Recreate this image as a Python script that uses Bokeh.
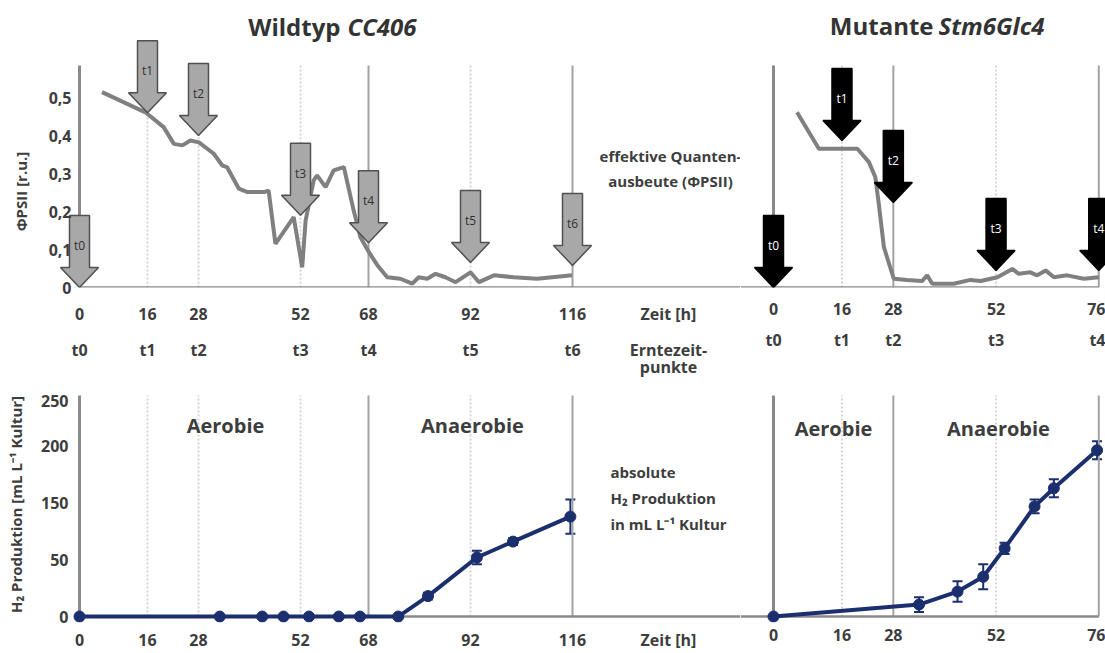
import math
from bokeh.plotting import figure
from bokeh.models import Range1d, FixedTicker, LinearAxis, Label, ColumnDataSource, Whisker, TeeHead
from bokeh.layouts import column, row
from bokeh.embed import file_html
from bokeh.resources import INLINE
from bokeh.core.properties import value

# ---------------- data ----------------
wt_psii_time = [5.3, 15.5, 19.8, 22.2, 24.2, 26.1, 28.1, 31.6, 33.6, 34.7, 37.5, 39.5, 43.4, 44.5, 46.1,
                50.4, 52.4, 53.2, 55.1, 55.9, 57.9, 59.8, 62.2, 64.5, 66.1, 68.1, 70.0, 72.4, 75.5, 78.3,
                79.8, 81.8, 83.8, 86.1, 88.5, 92.0, 94.0, 97.5, 102.2, 107.7, 115.9]
wt_psii = [0.514, 0.461, 0.422, 0.378, 0.374, 0.387, 0.382, 0.352, 0.321, 0.317, 0.260, 0.251, 0.251, 0.255, 0.115,
           0.185, 0.053, 0.176, 0.282, 0.295, 0.264, 0.308, 0.317, 0.203, 0.132, 0.093, 0.060, 0.027, 0.023, 0.010,
           0.027, 0.023, 0.036, 0.027, 0.014, 0.040, 0.014, 0.032, 0.027, 0.023, 0.032]

mut_psii_time = [5.5, 10.6, 19.6, 22.3, 23.8, 24.6, 25.8, 28.1, 31.2, 34.7, 35.9, 37.1, 39.8, 42.1, 46.0,
                 48.4, 52.3, 55.8, 57.3, 60.0, 61.6, 63.6, 65.5, 68.6, 72.5, 76.0]
mut_psii = [0.461, 0.365, 0.365, 0.330, 0.290, 0.220, 0.106, 0.023, 0.020, 0.017, 0.032, 0.010, 0.010, 0.010, 0.020,
            0.017, 0.027, 0.049, 0.036, 0.040, 0.032, 0.045, 0.027, 0.032, 0.023, 0.027]

wt_harvest_time = [0, 16, 28, 52, 68, 92, 116]
wt_harvest_label = ["t0", "t1", "t2", "t3", "t4", "t5", "t6"]
wt_arrow_tip = [0.0, 0.46, 0.40, 0.19, 0.118, 0.066, 0.058]

mut_harvest_time = [0, 16, 28, 52, 76]
mut_harvest_label = ["t0", "t1", "t2", "t3", "t4"]
mut_arrow_tip = [0.0, 0.387, 0.224, 0.045, 0.045]

wt_h2_time = [0, 33, 43, 48, 54, 61, 66, 75, 82, 93.5, 102, 115.5]
wt_h2 = [0, 0, 0, 0, 0, 0, 0, 0, 18, 52, 66, 88]
wt_h2_err = [0, 0, 0, 0, 0, 0, 0, 0, 3, 6, 3, 15]

mut_h2_time = [0, 34, 43, 49, 54, 61, 65.5, 75.6]
mut_h2 = [0, 10.5, 22, 35, 60, 97, 113, 146.5]
mut_h2_err = [0, 6.5, 9, 11, 5, 6, 8, 8]

psii_ticks = [0, 0.1, 0.2, 0.3, 0.4, 0.5]
psii_tick_labels = ["0", "0,1", "0,2", "0,3", "0,4", "0,5"]
h2_ticks = [0, 50, 100, 150, 190]
h2_tick_labels = ["0", "50", "150", "200", "250"]

wt_solid = [68, 116]
wt_dotted = [16, 28, 52, 92]
mut_solid = [28, 76]
mut_dotted = [16, 52]

# ---------------- style / layout constants ----------------
FONT = "Open Sans"
TXT = "#3d3d3d"
NAVY = "#1b2f6e"
GREY_LINE = "#808080"
SIDE = 30                      # narrow strip holding the rotated top y title
W_WT, W_MUT = 740, 365
H_TOP, H_BOT = 386, 267
PXH_WT, PXH_MUT = 4.25, 4.28
LEFT = 58                      # absolute pixel of the WT frame's left edge
AX0_WT = 79                    # absolute pixel of t = 0 (WT)
AX0_MUT = 773                  # absolute pixel of t = 0 (mutant)
TOP_BASE = 287                 # absolute pixel of the PSII baseline
PX_PSII = 380.0
BOT_BASE_ABS = 617             # absolute pixel of the H2 baseline
PX_H2 = 1.14
BOT_BORDER = 30
PSII_AXTOP = 0.584
H2_AXTOP = 194.7


def xw(X):
    return (X - AX0_WT) / PXH_WT


def xm(X):
    return (X - AX0_MUT) / PXH_MUT


def yt(Y):
    return (TOP_BASE - Y) / PX_PSII


def yb(Y):
    return (BOT_BASE_ABS - Y) / PX_H2


ZEIT_X = xw(668)
wt_x0 = xw(LEFT)
wt_x1 = xw(W_WT)
mut_x0 = xm(W_WT)
mut_x1 = xm(W_WT + W_MUT)
bot_frame_bottom = H_TOP + H_BOT - BOT_BORDER
bot_y0 = yb(bot_frame_bottom)
bot_y1 = yb(H_TOP)


def make_fig(w, h, xr, yr, left, bottom, yaxis=True):
    kw = dict(width=w, height=h, x_range=Range1d(*xr), y_range=Range1d(*yr),
              output_backend="svg", toolbar_location=None,
              min_border_left=left, min_border_right=0, min_border_top=0, min_border_bottom=bottom)
    if not yaxis:
        kw["y_axis_location"] = None
    p = figure(**kw)
    p.xgrid.visible = False
    p.ygrid.visible = False
    p.outline_line_color = None
    p.background_fill_color = "white"
    p.border_fill_color = "white"
    return p


def style_axis(ax, ticks, labels, standoff, size="16px"):
    ax.ticker = FixedTicker(ticks=ticks)
    ax.major_label_overrides = {t: l for t, l in zip(ticks, labels)}
    ax.axis_line_color = None
    ax.major_tick_line_color = None
    ax.minor_tick_line_color = None
    ax.major_tick_out = 0
    ax.major_tick_in = 0
    ax.major_label_standoff = standoff
    ax.major_label_text_font = FONT
    ax.major_label_text_font_style = "bold"
    ax.major_label_text_font_size = size
    ax.major_label_text_color = TXT


def lab(p, x, y, text, size="16px", style="bold", align="center", color=TXT, angle=0.0):
    p.add_layout(Label(x=x, y=y, text=text, text_font=FONT, text_font_size=size,
                       text_font_style=style, text_color=color, text_align=align,
                       text_baseline="middle", angle=angle))


def vlines(p, solid, dotted, top):
    p.segment(x0=dotted, y0=[0] * len(dotted), x1=dotted, y1=[top] * len(dotted),
              line_color="#d4d4d4", line_width=2, line_dash="2 2")
    p.segment(x0=solid, y0=[0] * len(solid), x1=solid, y1=[top] * len(solid),
              line_color="#a3a3a3", line_width=2)
    p.segment(x0=[0], y0=[0], x1=[0], y1=[top], line_color="#8a8a8a", line_width=3)


def arrows(p, times, tips, labels, pxx, fill, outline, tcolor):
    shape = [(0, 0), (19, 20), (10, 20), (10, 72), (-10, 72), (-10, 20), (-19, 20)]
    xs = [[t + dx / pxx for dx, dy in shape] for t in times]
    ys = [[v + dy / PX_PSII for dx, dy in shape] for v in tips]
    p.patches(xs, ys, fill_color=fill, line_color=outline, line_width=1.5)
    p.text(x=times, y=[v + 42 / PX_PSII for v in tips], text=labels,
           text_font=value(FONT), text_font_size="12px", text_color=tcolor,
           text_align="center", text_baseline="middle")


# ---------------- side strip with the rotated PSII title ----------------
p0 = figure(width=SIDE, height=H_TOP, x_range=Range1d(0, SIDE), y_range=Range1d(TOP_BASE, 0),
            output_backend="svg", toolbar_location=None, x_axis_location=None, y_axis_location=None,
            min_border_left=0, min_border_right=0, min_border_top=0, min_border_bottom=H_TOP - TOP_BASE)
p0.xgrid.visible = False
p0.ygrid.visible = False
p0.outline_line_color = None
p0.border_fill_color = "white"
lab(p0, 20, 191, "ΦPSII [r.u.]", size="15px", angle=math.pi / 2)

# ---------------- top left: Wildtyp PSII ----------------
p1 = make_fig(W_WT - SIDE, H_TOP, (wt_x0, wt_x1), (0, yt(0)), LEFT - SIDE, H_TOP - TOP_BASE)
vlines(p1, wt_solid, wt_dotted, PSII_AXTOP)
p1.segment(x0=[0], y0=[0], x1=[wt_x1], y1=[0], line_color="#8a8a8a", line_width=2.5)
p1.line(wt_psii_time, wt_psii, line_color=GREY_LINE, line_width=4)
arrows(p1, wt_harvest_time, wt_arrow_tip, wt_harvest_label, PXH_WT, "#a8a8a8", "#505050", "#303030")
style_axis(p1.yaxis[0], psii_ticks, psii_tick_labels, -13)
style_axis(p1.xaxis[0], wt_harvest_time + [ZEIT_X], [str(t) for t in wt_harvest_time] + ["Zeit [h]"], 15)
ax2 = LinearAxis()
style_axis(ax2, wt_harvest_time + [ZEIT_X], wt_harvest_label + ["Erntezeit-"], 11)
p1.add_layout(ax2, "below")
ax3 = LinearAxis()
style_axis(ax3, [ZEIT_X], ["punkte"], -8)
p1.add_layout(ax3, "below")

lab(p1, xw(340), yt(26), "Wildtyp", size="24px", align="right", color="#333333")
lab(p1, xw(347), yt(26), "CC406", size="24px", style="bold italic", align="left", color="#333333")
lab(p1, xw(670), yt(155), "effektive Quanten-", size="15px")
lab(p1, xw(670), yt(180), "ausbeute (ΦPSII)", size="15px")

# ---------------- top right: Mutante PSII ----------------
p2 = make_fig(W_MUT, H_TOP, (mut_x0, mut_x1), (0, yt(0)), 0, H_TOP - TOP_BASE, yaxis=False)
vlines(p2, mut_solid, mut_dotted, PSII_AXTOP)
p2.segment(x0=[mut_x0], y0=[0], x1=[76], y1=[0], line_color="#8a8a8a", line_width=2.5)
p2.line(mut_psii_time, mut_psii, line_color=GREY_LINE, line_width=4)
arrows(p2, mut_harvest_time, mut_arrow_tip, mut_harvest_label, PXH_MUT, "#000000", "#000000", "#ffffff")
style_axis(p2.xaxis[0], mut_harvest_time, [str(t) for t in mut_harvest_time], 15)
ax2m = LinearAxis()
style_axis(ax2m, mut_harvest_time, mut_harvest_label, 11)
p2.add_layout(ax2m, "below")
lab(p2, xm(933), yt(25), "Mutante", size="24px", align="right", color="#333333")
lab(p2, xm(938), yt(25), "Stm6Glc4", size="24px", style="bold italic", align="left", color="#333333")


def h2_panel(p, t, v, e):
    p.line(t, v, line_color=NAVY, line_width=4)
    tt = [a for a, b in zip(t, e) if b > 0]
    lo = [a - b for a, b in zip(v, e) if b > 0]
    hi = [a + b for a, b in zip(v, e) if b > 0]
    src = ColumnDataSource(dict(x=tt, lo=lo, hi=hi))
    p.add_layout(Whisker(source=src, base="x", lower="lo", upper="hi", line_color=NAVY, line_width=2,
                         upper_head=TeeHead(size=10, line_color=NAVY, line_width=2),
                         lower_head=TeeHead(size=10, line_color=NAVY, line_width=2)))
    p.scatter(t, v, marker="circle", size=11, fill_color=NAVY, line_color=NAVY)


# ---------------- bottom left: Wildtyp H2 ----------------
p3 = make_fig(W_WT, H_BOT, (wt_x0, wt_x1), (bot_y0, bot_y1), LEFT, BOT_BORDER)
vlines(p3, wt_solid, wt_dotted, H2_AXTOP)
p3.segment(x0=[0], y0=[0], x1=[wt_x1], y1=[0], line_color="#8a8a8a", line_width=2.5)
h2_panel(p3, wt_h2_time, wt_h2, wt_h2_err)
style_axis(p3.yaxis[0], h2_ticks, h2_tick_labels, -10)
ya = p3.yaxis[0]
ya.axis_label = "H₂ Produktion [mL L⁻¹ Kultur]"
ya.axis_label_standoff = 12
ya.axis_label_text_font = FONT
ya.axis_label_text_font_style = "bold"
ya.axis_label_text_font_size = "15px"
ya.axis_label_text_color = TXT
style_axis(p3.xaxis[0], wt_harvest_time + [ZEIT_X], [str(t) for t in wt_harvest_time] + ["Zeit [h]"], 6)
lab(p3, xw(225), yb(425), "Aerobie", size="20px")
lab(p3, xw(472), yb(425), "Anaerobie", size="20px")
lab(p3, xw(610), yb(472), "absolute", size="15px", align="left")
lab(p3, xw(610), yb(498), "H₂ Produktion", size="15px", align="left")
lab(p3, xw(610), yb(524), "in mL L⁻¹ Kultur", size="15px", align="left")

# ---------------- bottom right: Mutante H2 ----------------
p4 = make_fig(W_MUT, H_BOT, (mut_x0, mut_x1), (bot_y0, bot_y1), 0, BOT_BORDER, yaxis=False)
vlines(p4, mut_solid, mut_dotted, H2_AXTOP)
p4.segment(x0=[mut_x0], y0=[0], x1=[76], y1=[0], line_color="#8a8a8a", line_width=2.5)
h2_panel(p4, mut_h2_time, mut_h2, mut_h2_err)
style_axis(p4.xaxis[0], mut_harvest_time, [str(t) for t in mut_harvest_time], 6)
lab(p4, xm(833), yb(428), "Aerobie", size="20px")
lab(p4, xm(998), yb(428), "Anaerobie", size="20px")

layout = column(row(p0, p1, p2), row(p3, p4))
open("out.html", "w").write(file_html(layout, INLINE))
